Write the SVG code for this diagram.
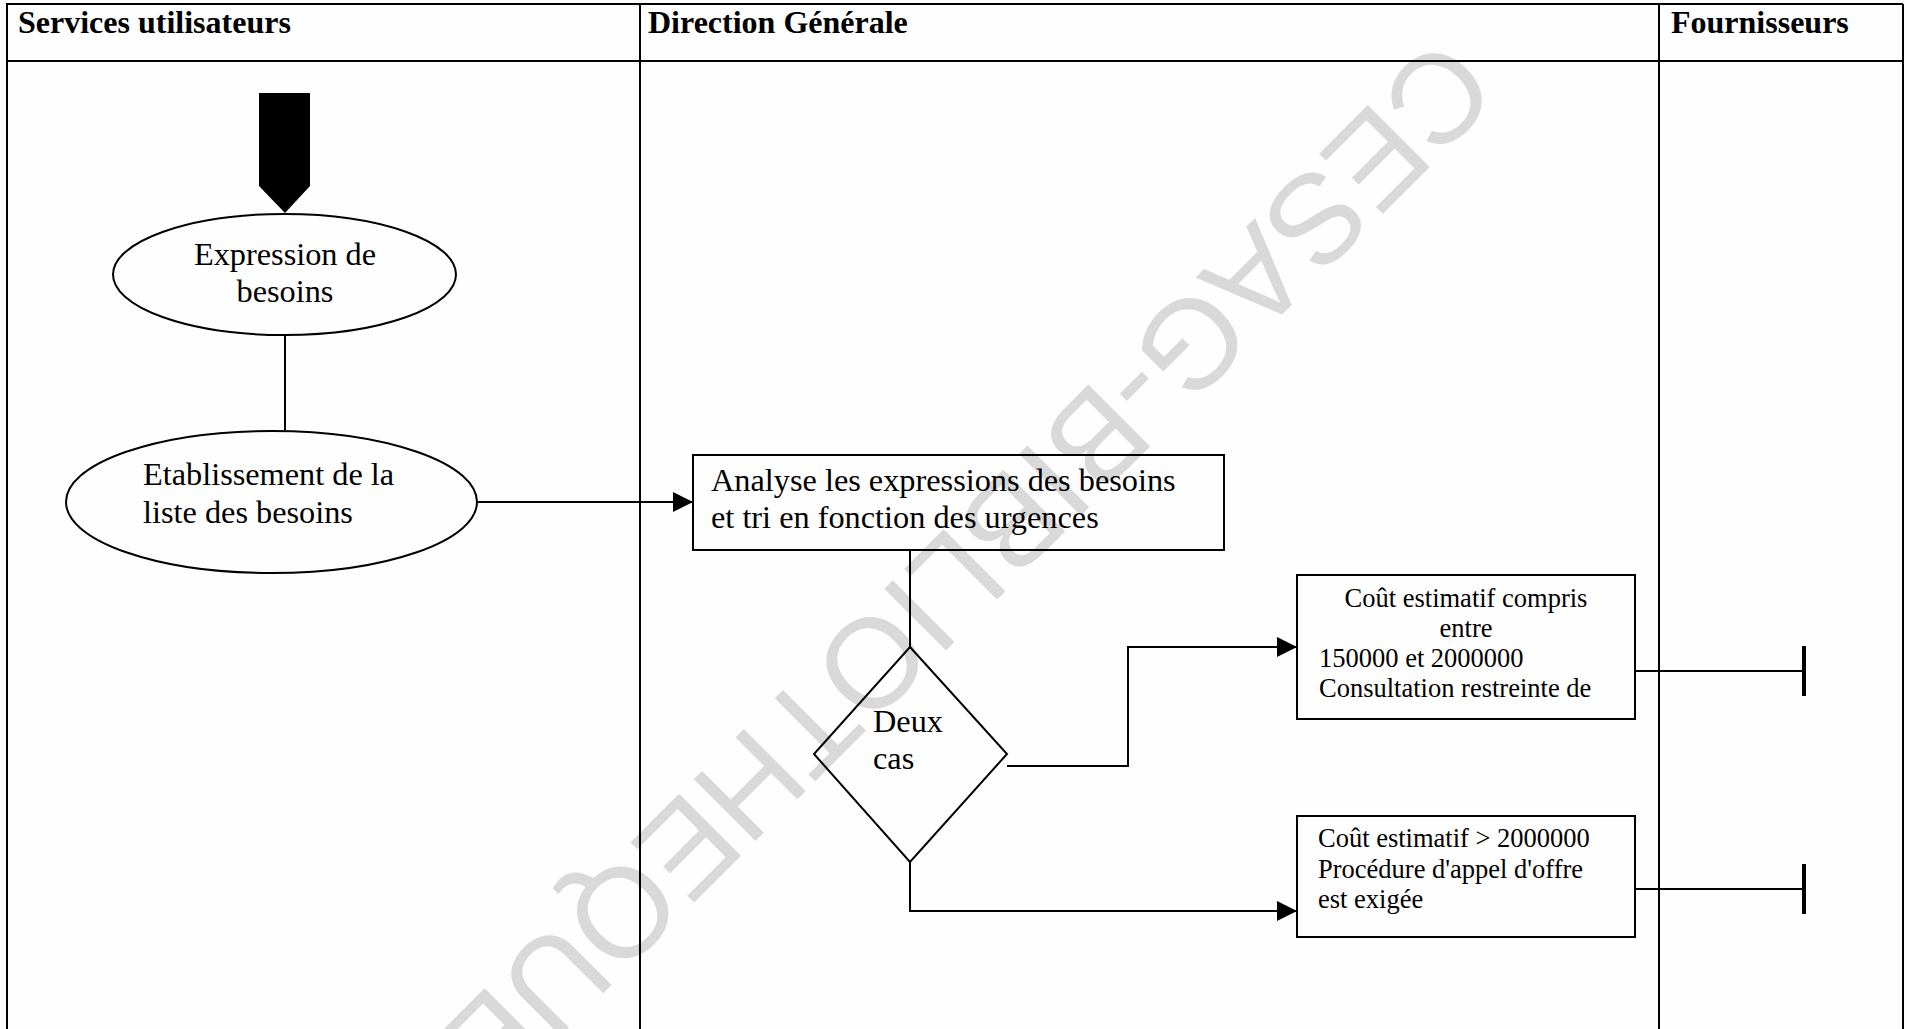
<svg xmlns="http://www.w3.org/2000/svg" width="1907" height="1029" viewBox="0 0 1907 1029">
<style>
.bg{fill:#fefefe}
.lane{stroke:#000;stroke-width:2;fill:none}
.shape{fill:none;stroke:#000;stroke-width:2}
.conn{fill:none;stroke:#000;stroke-width:2}
.hdr{font-family:"Liberation Serif","Times New Roman",serif;font-weight:bold;font-size:32px;fill:#000}
.t{font-family:"Liberation Serif","Times New Roman",serif;font-size:32.3px;fill:#000}
.s{font-family:"Liberation Serif","Times New Roman",serif;font-size:26.5px;fill:#000}
.wm{font-family:"Liberation Sans",Arial,sans-serif;font-size:127px;fill:#d9d9d9}
</style>
<defs>
<marker id="arrow" markerUnits="userSpaceOnUse" viewBox="0 0 20 20" refX="20" refY="10" markerWidth="21" markerHeight="20" orient="auto"><path d="M0,0 L20,10 L0,20 z" fill="#000"/></marker>
<marker id="tee" markerUnits="userSpaceOnUse" viewBox="0 0 4 50" refX="2" refY="25" markerWidth="4" markerHeight="50" orient="auto"><rect x="0" y="0" width="4" height="50" fill="#000"/></marker>
</defs>
<rect class="bg" x="0" y="0" width="1907" height="1029"/>
<text id="watermark" class="wm" transform="translate(1440,33) rotate(135)">CESAG-BIBLIOTHEQUE</text>
<g id="lanes">
<path class="lane" d="M6,4 H1903 M6,61 H1903 M7,4 V1029 M640,4 V1029 M1659,4 V1029 M1903,4 V1029"/>
<text class="hdr" x="18" y="33">Services utilisateurs</text>
<text class="hdr" x="648" y="33">Direction Générale</text>
<text class="hdr" x="1671" y="33">Fournisseurs</text>
</g>
<g id="start">
<polygon points="259,93 310,93 310,186 285,213 259,186" fill="#000"/>
</g>
<g id="connectors">
<path class="conn" d="M285,335 V431"/>
<path class="conn" d="M477,502 H693" marker-end="url(#arrow)"/>
<path class="conn" d="M910,550 V647"/>
<path class="conn" d="M1007,766 H1128 V647 H1297" marker-end="url(#arrow)"/>
<path class="conn" d="M910,862 V911 H1297" marker-end="url(#arrow)"/>
<path class="conn" d="M1635,671 H1804" marker-end="url(#tee)"/>
<path class="conn" d="M1635,889 H1804" marker-end="url(#tee)"/>
</g>
<g id="expression">
<ellipse class="shape" cx="284.5" cy="274.5" rx="171.5" ry="60.5"/>
<text class="t" x="285" y="265" text-anchor="middle">Expression de</text>
<text class="t" x="285" y="302" text-anchor="middle">besoins</text>
</g>
<g id="etablissement">
<ellipse class="shape" cx="271.5" cy="502" rx="205.5" ry="71"/>
<text class="t" x="143" y="485">Etablissement de la</text>
<text class="t" x="143" y="523">liste des besoins</text>
</g>
<g id="analyse">
<rect class="shape" x="693" y="455" width="531" height="95"/>
<text class="t" x="711" y="491">Analyse les expressions des besoins</text>
<text class="t" x="711" y="528">et tri en fonction des urgences</text>
</g>
<g id="deux-cas">
<polygon class="shape" points="910,647 1007,754 910,862 814,754"/>
<text class="t" x="873" y="732">Deux</text>
<text class="t" x="873" y="769">cas</text>
</g>
<g id="consultation">
<rect class="shape" x="1297" y="575" width="338" height="144"/>
<text class="s" x="1466" y="607" text-anchor="middle">Coût estimatif compris</text>
<text class="s" x="1466" y="637" text-anchor="middle">entre</text>
<text class="s" x="1319" y="667">150000 et 2000000</text>
<text class="s" x="1319" y="697">Consultation restreinte de</text>
</g>
<g id="appel-offre">
<rect class="shape" x="1297" y="816" width="338" height="121"/>
<text class="s" x="1318" y="847">Coût estimatif &gt; 2000000</text>
<text class="s" x="1318" y="878">Procédure d'appel d'offre</text>
<text class="s" x="1318" y="908">est exigée</text>
</g>
</svg>
